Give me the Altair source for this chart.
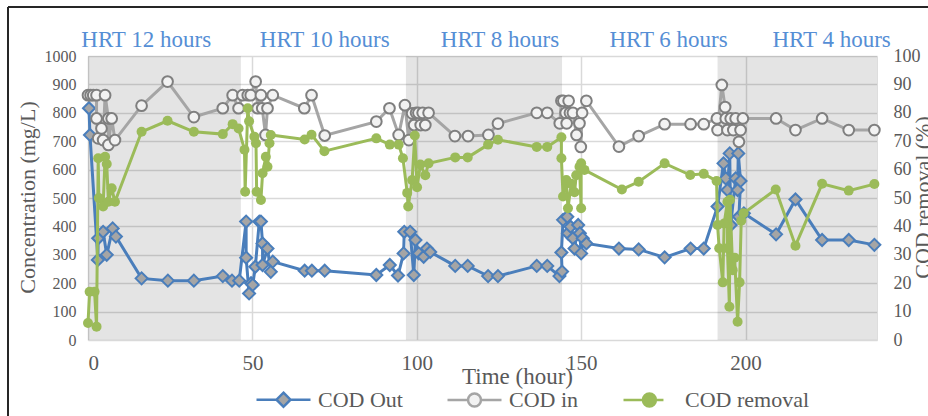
import altair as alt
import pandas as pd

SERIF = "Liberation Serif, Times New Roman, Times, DejaVu Serif, serif"
TXT = "#595959"
BLUE = "#4a7ebb"
GRAY_LINE = "#a5a5a5"
GRAY_EDGE = "#7f7f7f"
GRAY_FILL = "#f2f2f2"
DIAMOND_FILL = "#a5a5a5"
GREEN = "#9bbb59"
HRT_BLUE = "#558ed5"

W, H = 789, 284

series_names = ["COD Out", "COD in", "COD removal"]

# COD in (mg/L)
in_t = [0, 0.8, 1.6, 2.6, 2.6, 3.1, 4.1, 4.6, 5.2, 6.2,
        6.2, 7.2, 8.2, 16.3, 24.2, 32.2, 41.0, 44.0, 45.8, 47.0,
        48.6, 49.5, 51.0, 51.6, 52.6, 53.0, 54.0, 54.6, 56.2, 65.8,
        68.0, 72.0, 87.7, 91.7, 94.5, 96.4, 97.6, 98.6, 99.2, 99.8,
        100.5, 101.2, 101.8, 102.6, 103.6, 111.6, 115.6, 121.8, 124.7, 136.5,
        139.7, 143.5, 144.0, 144.6, 145.3, 145.6, 146.2, 146.6, 147.5, 148.6,
        149.5, 149.9, 150.3, 151.6, 161.5, 167.5, 175.4, 183.3, 187.3, 191.3,
        191.5, 192.8, 193.8, 194.0, 194.5, 195.5, 196.3, 197.0, 198.0, 198.5,
        199.2, 209.3, 215.2, 223.3, 231.4, 239.2]
in_v = [862, 862, 862, 862, 780, 710, 745, 704, 862, 780,
        687, 780, 704, 825, 910, 785, 816, 862, 816, 862,
        862, 862, 910, 816, 862, 816, 722, 816, 862, 816,
        862, 720, 769, 816, 722, 827, 704, 798, 757, 800,
        800, 757, 800, 757, 800, 718, 718, 722, 762, 800,
        800, 763, 842, 842, 800, 763, 842, 800, 800, 722,
        763, 680, 800, 842, 681, 718, 760, 760, 760, 780,
        739, 898, 820, 780, 739, 780, 739, 780, 698, 739,
        780, 780, 739, 780, 739, 739]

# COD Out (mg/L)
out_t = [0.3, 0.6, 3.0, 3.1, 4.6, 5.7, 7.5, 8.5, 16.3, 24.3,
         32.2, 41.0, 43.8, 46.0, 48.1, 48.1, 49.0, 49.6, 50.1, 50.9,
         52.1, 52.6, 53.1, 53.1, 54.6, 55.6, 56.2, 65.9, 68.1, 72.0,
         87.7, 91.8, 94.3, 96.0, 96.2, 98.0, 99.1, 99.6, 100.6, 102.1,
         103.1, 104.1, 111.7, 115.5, 121.7, 124.7, 136.5, 139.7, 143.4, 144.2,
         144.0, 144.5, 145.8, 146.0, 146.8, 147.5, 148.0, 149.1, 149.6, 150.0,
         150.5, 151.6, 161.5, 167.5, 175.4, 183.3, 187.3, 191.5, 193.3, 194.0,
         194.5, 195.2, 195.5, 197.0, 197.6, 197.8, 198.5, 198.0, 199.5, 209.3,
         215.2, 223.3, 231.4, 239.2]
out_v = [816, 722, 282, 358, 381, 300, 393, 364, 217, 209,
         209, 225, 209, 209, 417, 290, 164, 200, 194, 258,
         417, 417, 340, 264, 322, 240, 276, 244, 244, 244,
         229, 264, 227, 305, 381, 381, 229, 352, 305, 293,
         322, 310, 261, 261, 225, 225, 261, 261, 225, 241,
         308, 423, 434, 376, 399, 358, 322, 405, 376, 305,
         358, 340, 322, 319, 291, 322, 322, 470, 622, 569,
         528, 657, 405, 569, 528, 657, 560, 434, 446, 372,
         495, 352, 352, 335]

# COD removal (%)
rem_t = [0.0, 0.5, 2.0, 2.6, 3.1, 3.3, 4.6, 5.2, 5.7, 6.2,
         7.2, 8.2, 16.3, 24.2, 32.2, 41.0, 44.0, 45.8, 47.6, 47.8,
         48.6, 49.0, 50.6, 51.1, 51.3, 52.6, 53.1, 54.1, 54.6, 55.2,
         55.6, 65.9, 68.0, 71.9, 87.7, 91.8, 94.5, 95.8, 97.1, 97.4,
         98.6, 99.4, 100.1, 101.1, 102.6, 103.6, 111.7, 115.5, 121.7, 124.7,
         136.5, 139.7, 144.0, 144.0, 144.5, 145.5, 146.0, 147.0, 148.0, 148.5,
         149.5, 150.0, 150.0, 151.0, 162.4, 167.5, 175.4, 183.2, 187.3, 191.2,
         191.5, 192.0, 193.1, 193.5, 194.5, 194.5, 195.1, 195.3, 196.1, 196.7,
         197.6, 198.2, 198.7, 199.4, 209.2, 215.2, 223.3, 231.4, 239.2]
rem_v = [6, 17, 17, 4.7, 64, 50, 47, 64.5, 62, 48.7,
         53.4, 48.7, 73.3, 77.2, 73.3, 72.5, 76, 74.5, 67, 52.2,
         81.6, 77, 71.6, 69.3, 52.2, 49.3, 58.7, 64.5, 61, 69.3,
         72.2, 70.6, 72.3, 66.5, 71, 68.8, 68.8, 64, 51.8, 47,
         56.3, 72, 53.8, 61.8, 58, 62.2, 64.3, 64.3, 68.8, 70.5,
         68, 68, 71.4, 64, 50.5, 56.3, 46.4, 55, 52, 58,
         61, 46.4, 62.2, 59.9, 53, 55.7, 62.2, 58.1, 58.5, 56,
         40.5, 32.3, 20.3, 41, 48.7, 32.3, 11.7, 49.4, 24.6, 29,
         6.4, 20.3, 42, 44.6, 53, 33.2, 55, 52.6, 54.9]

# HRT periods
hrt_labels = ["HRT 12 hours", "HRT 10 hours", "HRT 8 hours", "HRT 6 hours", "HRT 4 hours"]
hrt_label_t = [17.7, 72.0, 125.3, 176.6, 226.2]
shade_start = [0, 96.7, 191.5]
shade_end = [46.5, 144.2, 240]


def frame(ts, vs, name):
    return pd.DataFrame({"t": ts, "v": vs, "series": name, "i": range(len(ts))})


df_out = frame(out_t, out_v, "COD Out")
df_in = frame(in_t, in_v, "COD in")
df_rem = frame(rem_t, rem_v, "COD removal")
df_shade = pd.DataFrame({"start": shade_start, "end": shade_end})
df_hrt = pd.DataFrame({"label": hrt_labels, "t": hrt_label_t})
df_one = pd.DataFrame({"a": [0]})

x_scale = alt.Scale(domain=[0, 240], nice=False, zero=False)
x_axis = alt.Axis(values=[0, 50, 100, 150, 200], title="Time (hour)", grid=True, format="d",
                  gridColor="#d9d9d9", gridWidth=1.5, domain=False, ticks=False,
                  labelFontSize=21, labelPadding=12, labelColor=TXT, labelFont=SERIF,
                  titleFont=SERIF, titleFontSize=23, titleColor=TXT, titleFontWeight="normal",
                  titleX=429, titleY=43, titleBaseline="alphabetic")
yl_scale = alt.Scale(domain=[0, 1000], nice=False)
yl_axis = alt.Axis(values=list(range(0, 1001, 100)), title="Concentration (mg/L)", grid=True, format="d",
                   gridColor="#d9d9d9", gridWidth=1.5, domain=False, ticks=False,
                   labelFontSize=16, labelPadding=12, labelColor=TXT, labelFont=SERIF,
                   titleFont=SERIF, titleFontSize=22, titleColor=TXT, titleFontWeight="normal",
                   titleAngle=270, titleX=-61, titleY=141, titleBaseline="middle")
yr_scale = alt.Scale(domain=[0, 100], nice=False)
yr_axis = alt.Axis(orient="right", values=list(range(0, 101, 10)), title="COD removal (%)", grid=False,
                   domain=False, ticks=False, format="d",
                   labelFontSize=18, labelPadding=16, labelColor=TXT, labelFont=SERIF,
                   titleFont=SERIF, titleFontSize=22, titleColor=TXT, titleFontWeight="normal",
                   titleAngle=270, titleX=45, titleY=141, titleBaseline="middle")

X = alt.X("t:Q", scale=x_scale, axis=x_axis)
YL = alt.Y("v:Q", scale=yl_scale, axis=yl_axis)
YR = alt.Y("v:Q", scale=yr_scale, axis=yr_axis)
ORDER = alt.Order("i:Q")

p_out = "M-1,0H-0.26M0.26,0H1M0,-0.26L0.26,0L0,0.26L-0.26,0Z"
p_in = "M-1,0H-0.25M0.25,0H1M0.24,0A0.24,0.24,0,1,1,-0.24,0A0.24,0.24,0,1,1,0.24,0Z"
p_rem = "M-1,0H-0.28M0.2,0H0.48M0.2,0A0.24,0.24,0,1,1,-0.28,0A0.24,0.24,0,1,1,0.2,0Z"

shape_expr = (f"datum.value === 'COD Out' ? '{p_out}' : "
              f"datum.value === 'COD in' ? '{p_in}' : '{p_rem}'")
fill_expr = (f"datum.value === 'COD Out' ? '{DIAMOND_FILL}' : "
             f"datum.value === 'COD in' ? '{GRAY_FILL}' : '{GREEN}'")

legend = alt.Legend(
    orient="none", legendX=167, legendY=315, direction="horizontal", title=None,
    labelFont=SERIF, labelFontSize=22, labelColor=TXT, labelOffset=6,
    symbolSize=2916, symbolStrokeWidth=2.5, columnPadding=39, padding=0,
    symbolType=alt.ExprRef(expr=shape_expr),
    symbolFillColor=alt.ExprRef(expr=fill_expr),
    symbolOpacity=1,
)
color_enc = alt.Color("series:N", scale=alt.Scale(domain=series_names, range=[BLUE, GRAY_LINE, GREEN]),
                      legend=legend)

shade = alt.Chart(df_shade).mark_rect(color="black", opacity=0.105).encode(
    x=alt.X("start:Q", scale=x_scale, axis=x_axis), x2="end:Q",
    y=alt.value(0), y2=alt.value(H))

out_line = alt.Chart(df_out).mark_line(strokeWidth=3).encode(x=X, y=YL, order=ORDER, color=color_enc)
out_pts = alt.Chart(df_out).mark_point(shape="diamond", filled=True, fill=DIAMOND_FILL, stroke=BLUE,
                                       strokeWidth=2, size=144, opacity=1).encode(x=X, y=YL)
in_line = alt.Chart(df_in).mark_line(strokeWidth=3, color=GRAY_LINE).encode(x=X, y=YL, order=ORDER)
in_pts = alt.Chart(df_in).mark_point(shape="circle", filled=True, fill=GRAY_FILL, stroke=GRAY_EDGE,
                                     strokeWidth=2, size=115, opacity=1).encode(x=X, y=YL)
rem_line = alt.Chart(df_rem).mark_line(strokeWidth=3, color=GREEN).encode(x=X, y=YR, order=ORDER)
rem_pts = alt.Chart(df_rem).mark_circle(size=100, color=GREEN, opacity=1).encode(x=X, y=YR)

hrt_text = alt.Chart(df_hrt).mark_text(font=SERIF, fontSize=23, color=HRT_BLUE, baseline="alphabetic",
                                       align="center").encode(
    x=alt.X("t:Q", scale=x_scale, axis=x_axis), y=alt.value(-9), text="label:N")

frame_h = alt.Chart(df_one).mark_rule(color="#262626", strokeWidth=2).encode(
    x=alt.value(-80), x2=alt.value(860), y=alt.value(-49))
frame_v = alt.Chart(df_one).mark_rule(color="#262626", strokeWidth=2).encode(
    x=alt.value(-80), y=alt.value(-49), y2=alt.value(380))

left = alt.layer(shade, out_line, out_pts, in_line, in_pts)
right = alt.layer(rem_line, rem_pts)

chart = alt.layer(left, right, hrt_text, frame_h, frame_v).resolve_scale(y="independent").properties(
    width=W, height=H,
    padding={"left": 88, "top": 56, "right": 51, "bottom": 76},
    autosize=alt.AutoSizeParams(type="none"),
    background="white",
).configure_view(stroke=None).configure(font=SERIF)

chart.save("out.html", embed_options={"renderer": "svg", "actions": False})
